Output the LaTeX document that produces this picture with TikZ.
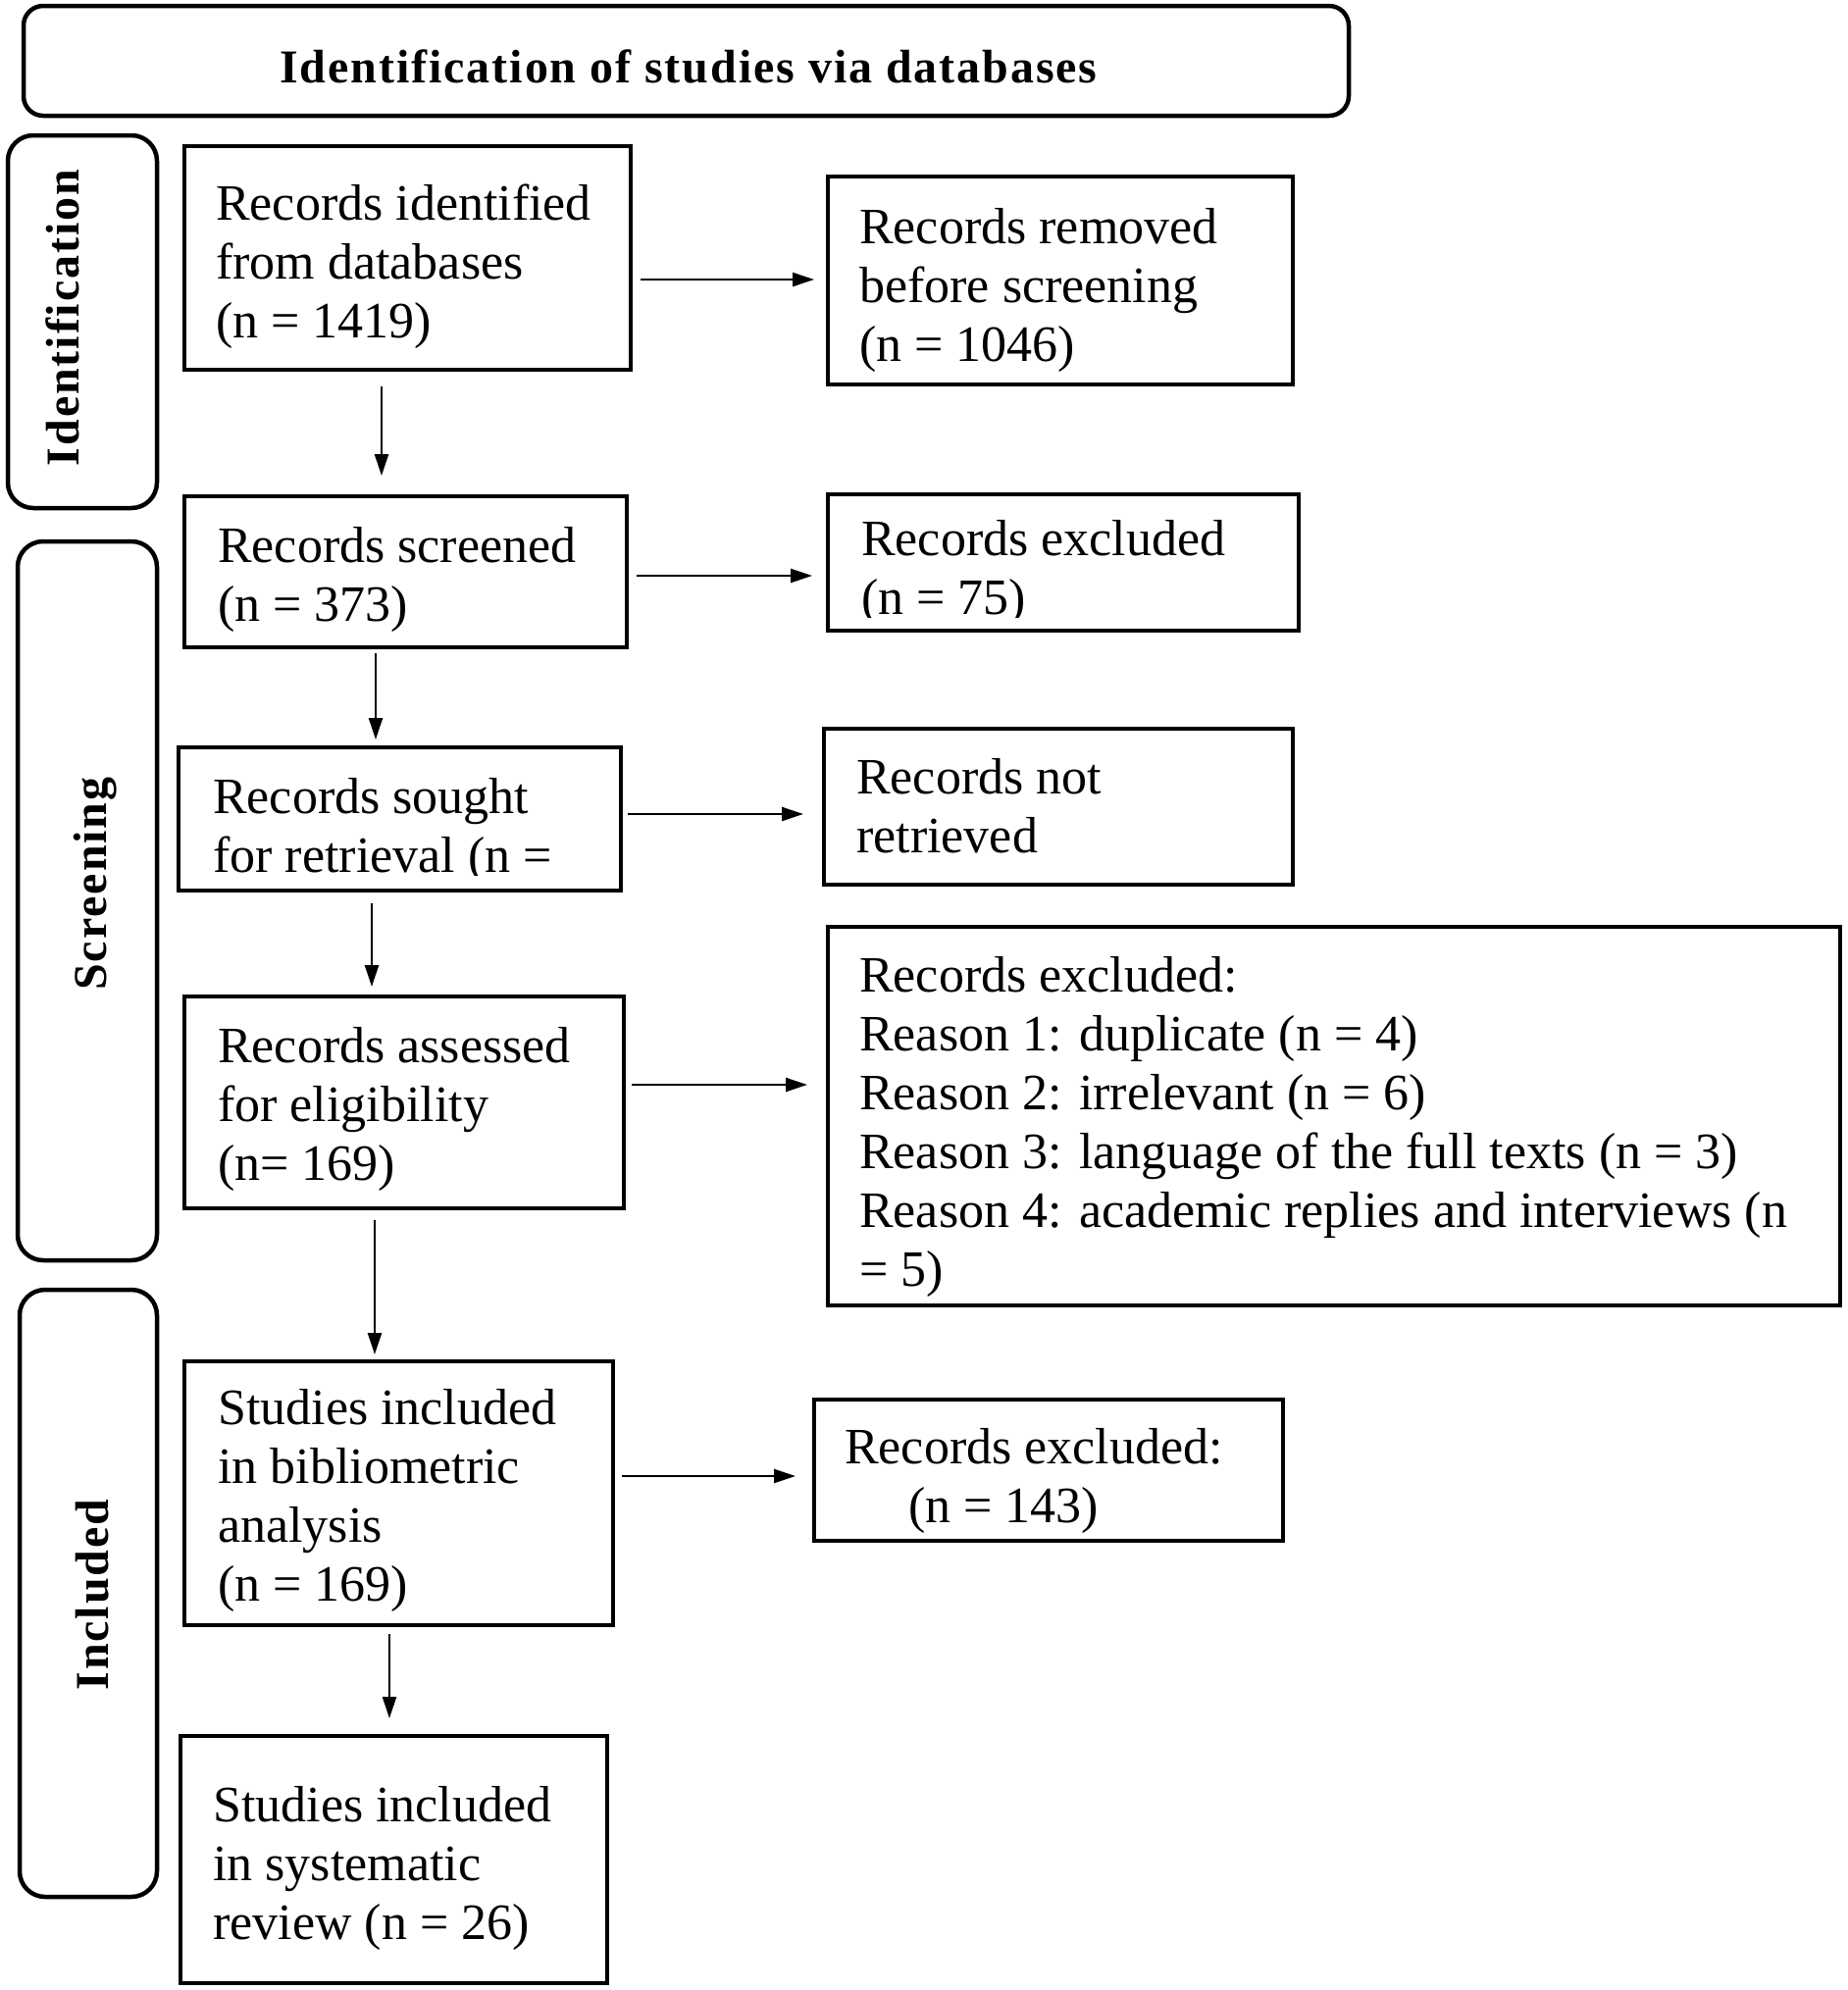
\documentclass[tikz,border=0pt]{standalone}
\usepackage{fontspec}
\setmainfont{Liberation Serif}
\newfontfamily\lblfont[LetterSpace=4]{Liberation Serif}
\usetikzlibrary{arrows.meta}
\tikzset{
  box/.style={draw, line width=4pt, inner sep=0pt, rectangle},
  sidebox/.style={draw, line width=4.5pt, rounded corners=26pt, inner sep=0pt, rectangle},
  txt/.style={anchor=north west, inner sep=0pt, align=left, font=\fontsize{52}{60}\selectfont, execute at begin node=\strut},
  lbl/.style={inner sep=0pt, anchor=base, font=\lblfont\bfseries\fontsize{48}{56}\selectfont},
  arr/.style={-{Triangle[length=22pt,width=14pt]}, line width=2.5pt},
}
\begin{document}
\begin{tikzpicture}[x=1pt,y=-1pt]
\useasboundingbox (0,0) rectangle (1883,2029);
% title and stage boxes
\node[sidebox, rounded corners=20pt, minimum width=1351pt, minimum height=112pt] (title) at (699.5,62) {};
\node[lbl] (titletext) at (702,84) {Identification of studies via databases};
\node[sidebox, minimum width=152pt, minimum height=380pt] (sId) at (84,328) {};
\node[sidebox, minimum width=142pt, minimum height=733pt] (sSc) at (89,918.5) {};
\node[sidebox, minimum width=140pt, minimum height=619pt] (sIn) at (90,1624.5) {};
\node[lbl, rotate=90] (lId) at (80,324) {Identification};
\node[lbl, rotate=90] (lSc) at (108,901) {Screening};
\node[lbl, rotate=90] (lIn) at (110,1626) {Included};
% boxes
\node[box, minimum width=455pt, minimum height=228pt] (b1) at (415.5,263) {};
\node[box, minimum width=474pt, minimum height=212pt] (b2) at (1081,286) {};
\node[box, minimum width=451pt, minimum height=154pt] (b3) at (413.5,583) {};
\node[box, minimum width=480pt, minimum height=139pt] (b4) at (1084,573.5) {};
\node[box, minimum width=451pt, minimum height=146pt] (b5) at (407.5,835) {};
\node[box, minimum width=478pt, minimum height=159pt] (b6) at (1079,822.5) {};
\node[box, minimum width=448pt, minimum height=216pt] (b7) at (412,1124) {};
\node[box, minimum width=1032pt, minimum height=386pt] (b8) at (1360,1138) {};
\node[box, minimum width=437pt, minimum height=269pt] (b9) at (406.5,1522.5) {};
\node[box, minimum width=478pt, minimum height=144pt] (b10) at (1069,1499) {};
\node[box, minimum width=435pt, minimum height=252pt] (b11) at (401.5,1896) {};
% texts
\node[txt] (t1) at (220,188) {Records identified\\from databases\\(n = 1419)};
\node[txt] (t2) at (876,212) {Records removed\\before screening\\(n = 1046)};
\node[txt] (t3) at (222,537) {Records screened\\(n = 373)};
\begin{scope}
\clip (842,502) rectangle (1326,629);
\node[txt] (t4) at (878,530) {Records excluded\\(n = 75)};
\end{scope}
\begin{scope}
\clip (180,760) rectangle (635,892);
\node[txt] (t5) at (217,793) {Records sought\\for retrieval (n =};
\end{scope}
\node[txt] (t6) at (873,773) {Records not\\retrieved};
\node[txt] (t7) at (222,1047) {Records assessed\\for eligibility\\(n= 169)};
\node[txt] (t8) at (876,975) {Records excluded:\\Reason 1: duplicate (n = 4)\\Reason 2: irrelevant (n = 6)\\Reason 3: language of the full texts (n = 3)\\Reason 4: academic replies and interviews (n\\= 5)};
\node[txt] (t9) at (222,1416) {Studies included\\in bibliometric\\analysis\\(n = 169)};
\node[txt] (t10) at (861,1456) {Records excluded:\\\hspace*{65pt}(n = 143)};
\node[txt] (t11) at (217,1821) {Studies included\\in systematic\\review (n = 26)};
% connectors
\draw[arr, shorten <=8pt, shorten >=12pt] ([yshift=-22pt]b1.east) -- ([yshift=-22pt]b1.east -| b2.west);
\draw[arr, shorten <=15pt, shorten >=19pt] ([xshift=-26.5pt]b1.south) -- ([xshift=-26.5pt]b1.south |- b3.north);
\draw[arr, shorten <=8pt, shorten >=14pt] ([yshift=-4pt]b3.east) -- ([yshift=-4pt]b3.east -| b4.west);
\draw[arr, shorten <=4pt, shorten >=6pt] ([xshift=-30.5pt]b3.south) -- ([xshift=-30.5pt]b3.south |- b5.north);
\draw[arr, shorten <=5pt, shorten >=19pt] ([yshift=5pt]b5.east) -- ([yshift=5pt]b5.east -| b6.west);
\draw[arr, shorten <=11pt, shorten >=8pt] ([xshift=-28.5pt]b5.south) -- ([xshift=-28.5pt]b5.south |- b7.north);
\draw[arr, shorten <=6pt, shorten >=19pt] ([yshift=18pt]b7.east) -- ([yshift=18pt]b7.east -| b8.west);
\draw[arr, shorten <=10pt, shorten >=5pt] ([xshift=-30pt]b7.south) -- ([xshift=-30pt]b7.south |- b9.north);
\draw[arr, shorten <=7pt, shorten >=17pt] ([yshift=17.5pt]b9.east) -- ([yshift=17.5pt]b9.east -| b10.west);
\draw[arr, shorten <=7pt, shorten >=16pt] ([xshift=-9.5pt]b9.south) -- ([xshift=-9.5pt]b9.south |- b11.north);
\end{tikzpicture}
\end{document}
